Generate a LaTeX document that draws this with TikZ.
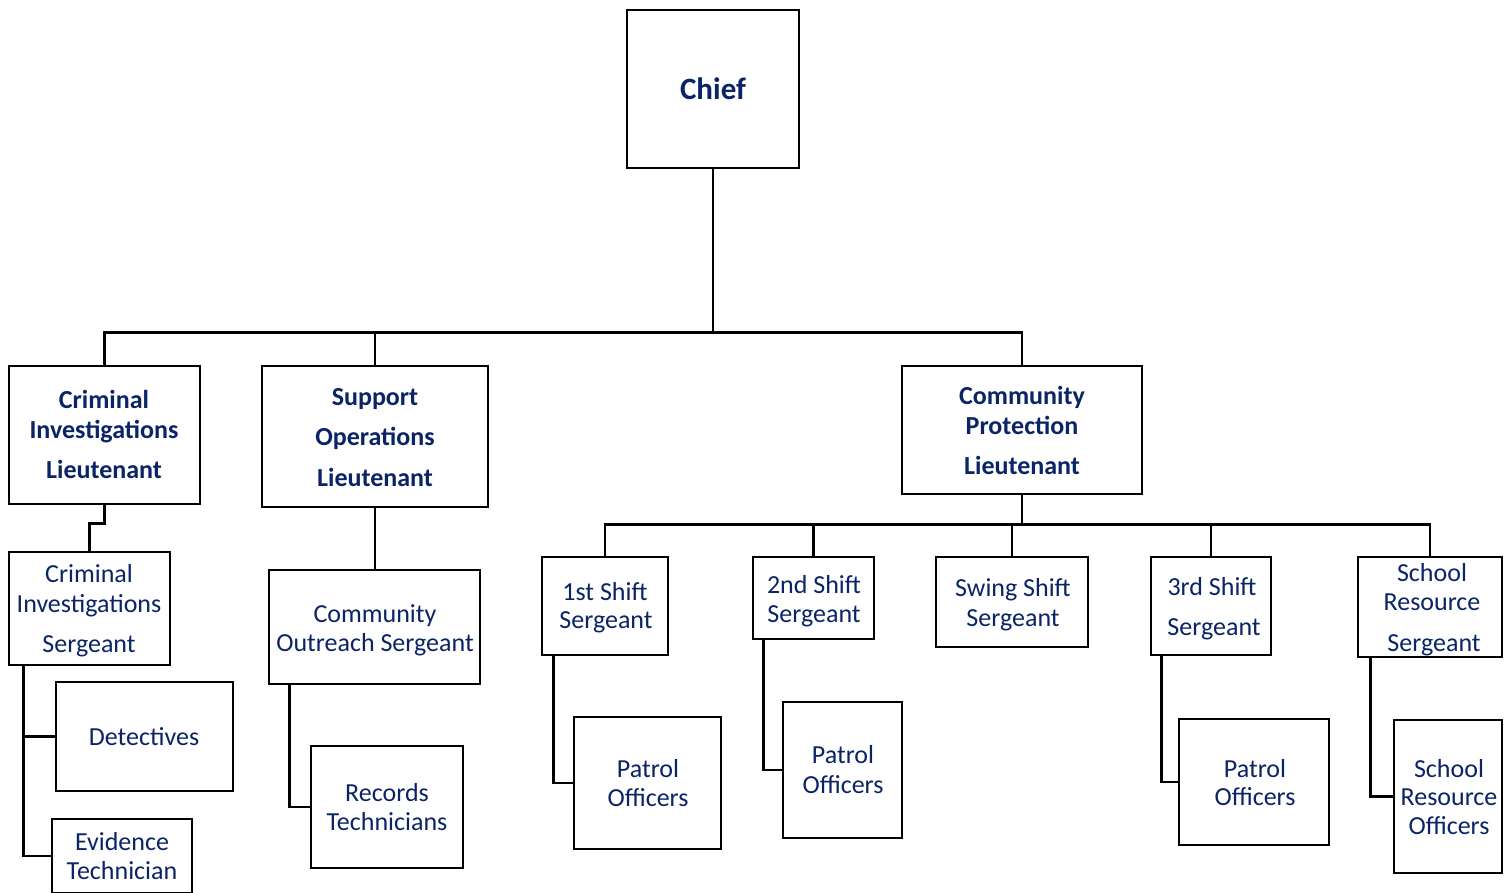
\documentclass[tikz,border=0pt]{standalone}
\usepackage{fontspec}
\setmainfont{Carlito}
\definecolor{navy}{HTML}{0B2466}
\begin{document}
\begin{tikzpicture}[x=1pt,y=-1pt,
  box/.style={draw=black, line width=2.8pt, fill=white, inner sep=0pt},
  conn/.style={draw=black, line width=2.8pt},
  tx/.style={anchor=base, inner sep=0pt, text=navy, font=\fontsize{26}{30}\selectfont},
  tb/.style={tx, font=\fontsize{26}{30}\selectfont\bfseries},
]
\newcommand{\bx}[5]{\node[box, minimum width={#4-#2}, minimum height={#5-#3}] (#1) at ({(#2+#4)/2},{(#3+#5)/2}) {};}
\useasboundingbox (0,0) rectangle (1512,892);

% boxes
\bx{chief}{627}{10}{799}{168}
\bx{cil}{9}{366}{200}{504}
\bx{sol}{262}{366}{488}{507}
\bx{cpl}{902}{366}{1142}{494}
\bx{cis}{9}{552}{170}{665}
\bx{det}{56}{682}{233}{791}
\bx{evi}{52}{819}{192}{893}
\bx{cos}{269}{570}{480}{684}
\bx{rec}{311}{746}{463}{868}
\bx{s1}{542}{557}{668}{655}
\bx{s2}{753}{557}{874}{639}
\bx{sw}{936}{557}{1088}{647}
\bx{s3}{1151}{557}{1271}{655}
\bx{srs}{1358}{557}{1502}{657}
\bx{p1}{574}{717}{721}{849}
\bx{p2}{783}{702}{902}{838}
\bx{p3}{1179}{719}{1329}{845}
\bx{sro}{1394}{720}{1502}{873}

% connectors
\draw[conn] (cil.north) -- ++(0,-32) -| (chief.south);
\draw[conn] (sol.north) -- ++(0,-32) -| (chief.south);
\draw[conn] (cpl.north) -- ++(0,-32) -| (chief.south);
\draw[conn] (cil.south) -- ++(0,18) -| (cis.north);
\draw[conn] ([xshift=16pt]cis.south west) |- (det.west);
\draw[conn] ([xshift=16pt]cis.south west) |- (evi.west);
\draw[conn] (sol.south) -- (sol.south |- cos.north);
\draw[conn] ([xshift=22pt]cos.south west) |- (rec.west);
\draw[conn] (s1.north) -- ++(0,-31) -| (cpl.south);
\draw[conn] (s2.north) -- ++(0,-31) -| (cpl.south);
\draw[conn] (sw.north) -- ++(0,-31) -| (cpl.south);
\draw[conn] (s3.north) -- ++(0,-31) -| (cpl.south);
\draw[conn] (srs.north) -- ++(0,-31) -| (cpl.south);
\draw[conn] ([xshift=13pt]s1.south west) |- (p1.west);
\draw[conn] ([xshift=12pt]s2.south west) |- (p2.west);
\draw[conn] ([xshift=12pt]s3.south west) |- (p3.west);
\draw[conn] ([xshift=14pt]srs.south west) |- (sro.west);

% texts
\node[tb, font=\fontsize{31}{36}\selectfont\bfseries] (chief-t) at (713,99) {Chief};

\node[tb] (cil-1) at (104,408) {Criminal};
\node[tb] (cil-2) at (104,438) {Investigations};
\node[tb] (cil-3) at (104,478) {Lieutenant};

\node[tb] (sol-1) at (375,405) {Support};
\node[tb] (sol-2) at (375,445) {Operations};
\node[tb] (sol-3) at (375,486) {Lieutenant};

\node[tb] (cpl-1) at (1022,404) {Community};
\node[tb] (cpl-2) at (1022,434) {Protection};
\node[tb] (cpl-3) at (1022,474) {Lieutenant};

\node[tx] (cis-1) at (89,582) {Criminal};
\node[tx] (cis-2) at (89,612) {Investigations};
\node[tx] (cis-3) at (89,652) {Sergeant};

\node[tx] (det-1) at (144,745) {Detectives};
\node[tx] (evi-1) at (122,850) {Evidence};
\node[tx] (evi-2) at (122,879) {Technician};

\node[tx] (cos-1) at (375,622) {Community};
\node[tx] (cos-2) at (375,651) {Outreach Sergeant};
\node[tx] (rec-1) at (387,801) {Records};
\node[tx] (rec-2) at (387,830) {Technicians};

\node[tx] (s1-1) at (605,600) {1st Shift};
\node[tx] (s1-2) at (606,628) {Sergeant};
\node[tx] (s2-1) at (814,593) {2nd Shift};
\node[tx] (s2-2) at (814,622) {Sergeant};
\node[tx] (sw-1) at (1013,596) {Swing Shift};
\node[tx] (sw-2) at (1013,626) {Sergeant};
\node[tx] (s3-1) at (1212,595) {3rd Shift};
\node[tx] (s3-2) at (1214,635) {Sergeant};
\node[tx] (srs-1) at (1432,581) {School};
\node[tx] (srs-2) at (1432,610) {Resource};
\node[tx] (srs-3) at (1434,651) {Sergeant};

\node[tx] (p1-1) at (648,777) {Patrol};
\node[tx] (p1-2) at (648,806) {Officers};
\node[tx] (p2-1) at (843,763) {Patrol};
\node[tx] (p2-2) at (843,793) {Officers};
\node[tx] (p3-1) at (1255,777) {Patrol};
\node[tx] (p3-2) at (1255,805) {Officers};
\node[tx] (sro-1) at (1449,777) {School};
\node[tx] (sro-2) at (1449,805) {Resource};
\node[tx] (sro-3) at (1449,834) {Officers};
\end{tikzpicture}
\end{document}
